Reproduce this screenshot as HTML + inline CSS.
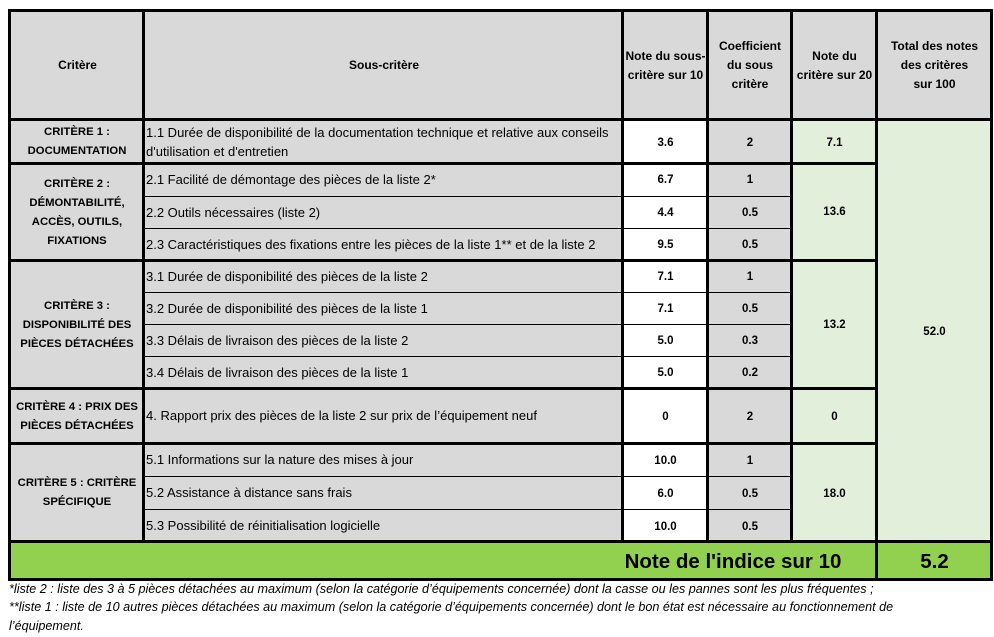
<!DOCTYPE html>
<html><head><meta charset="utf-8"><style>
body{margin:0;width:994px;height:637px;background:#fff;position:relative;overflow:hidden;font-family:"Liberation Sans",sans-serif;color:#000}
div{position:absolute;box-sizing:border-box}
.g{background:#d9d9d9}.w{background:#fff}.l{background:#e2efda}.G{background:#92d050}
.k{background:#000}
.c{display:flex;align-items:center;justify-content:center;text-align:center;font-weight:bold;font-size:12px;line-height:19px}
.cr{font-size:11.3px}
.t{display:flex;align-items:center;font-size:13px;line-height:19px;padding-left:3px;white-space:nowrap}
.n{font-size:11.5px}
.f{font-style:italic;font-size:12.6px;left:9px;white-space:nowrap}
</style></head><body>
<div class="g" style="left:9px;top:10px;width:982px;height:110px"></div>
<div class="g" style="left:9px;top:119px;width:614px;height:423px"></div>
<div class="w" style="left:622px;top:119px;width:86px;height:423px"></div>
<div class="g" style="left:707px;top:119px;width:85px;height:423px"></div>
<div class="l" style="left:791px;top:119px;width:200px;height:423px"></div>
<div class="G" style="left:9px;top:541px;width:982px;height:38px"></div>

<div class="c" style="left:12px;top:12px;width:131px;height:107px">Critère</div>
<div class="c" style="left:146px;top:12px;width:476px;height:107px">Sous-critère</div>
<div class="c" style="left:624px;top:12px;width:83px;height:107px">Note du sous-<br>critère sur 10</div>
<div class="c" style="left:709px;top:12px;width:82px;height:107px">Coefficient<br>du sous<br>critère</div>
<div class="c" style="left:793px;top:12px;width:83px;height:107px">Note du<br>critère sur 20</div>
<div class="c" style="left:878px;top:12px;width:113px;height:107px">Total des notes<br>des critères<br>sur 100</div>

<div class="c cr" style="left:11px;top:121px;width:132px;height:42px">CRITÈRE 1 :<br>DOCUMENTATION</div>
<div class="c cr" style="left:11px;top:165px;width:132px;height:95px">CRITÈRE 2 :<br>DÉMONTABILITÉ,<br>ACCÈS, OUTILS,<br>FIXATIONS</div>
<div class="c cr" style="left:11px;top:262px;width:132px;height:126px">CRITÈRE 3 :<br>DISPONIBILITÉ DES<br>PIÈCES DÉTACHÉES</div>
<div class="c cr" style="left:11px;top:390px;width:132px;height:53px">CRITÈRE 4 : PRIX DES<br>PIÈCES DÉTACHÉES</div>
<div class="c cr" style="left:11px;top:445px;width:132px;height:96px">CRITÈRE 5 : CRITÈRE<br>SPÉCIFIQUE</div>

<div class="t" style="left:143px;top:121px;width:479px;height:42px">1.1 Durée de disponibilité de la documentation technique et relative aux conseils<br>d'utilisation et d'entretien</div>
<div class="t" style="left:143px;top:163px;width:479px;height:33px">2.1 Facilité de démontage des pièces de la liste 2*</div>
<div class="t" style="left:143px;top:196px;width:479px;height:32px">2.2 Outils nécessaires (liste 2)</div>
<div class="t" style="left:143px;top:228px;width:479px;height:32px">2.3 Caractéristiques des fixations entre les pièces de la liste 1** et de la liste 2</div>
<div class="t" style="left:143px;top:260px;width:479px;height:32px">3.1 Durée de disponibilité des pièces de la liste 2</div>
<div class="t" style="left:143px;top:292px;width:479px;height:32px">3.2 Durée de disponibilité des pièces de la liste 1</div>
<div class="t" style="left:143px;top:324px;width:479px;height:32px">3.3 Délais de livraison des pièces de la liste 2</div>
<div class="t" style="left:143px;top:356px;width:479px;height:32px">3.4 Délais de livraison des pièces de la liste 1</div>
<div class="t" style="left:143px;top:388px;width:479px;height:55px">4. Rapport prix des pièces de la liste 2 sur prix de l’équipement neuf</div>
<div class="t" style="left:143px;top:443px;width:479px;height:33px">5.1 Informations sur la nature des mises à jour</div>
<div class="t" style="left:143px;top:476px;width:479px;height:33px">5.2 Assistance à distance sans frais</div>
<div class="t" style="left:143px;top:509px;width:479px;height:32px">5.3 Possibilité de réinitialisation logicielle</div>

<div class="c n" style="left:624px;top:122px;width:83px;height:42px">3.6</div><div class="c n" style="left:709px;top:122px;width:82px;height:42px">2</div>
<div class="c n" style="left:624px;top:164px;width:83px;height:33px">6.7</div><div class="c n" style="left:709px;top:164px;width:82px;height:33px">1</div>
<div class="c n" style="left:624px;top:197px;width:83px;height:32px">4.4</div><div class="c n" style="left:709px;top:197px;width:82px;height:32px">0.5</div>
<div class="c n" style="left:624px;top:229px;width:83px;height:32px">9.5</div><div class="c n" style="left:709px;top:229px;width:82px;height:32px">0.5</div>
<div class="c n" style="left:624px;top:261px;width:83px;height:32px">7.1</div><div class="c n" style="left:709px;top:261px;width:82px;height:32px">1</div>
<div class="c n" style="left:624px;top:293px;width:83px;height:32px">7.1</div><div class="c n" style="left:709px;top:293px;width:82px;height:32px">0.5</div>
<div class="c n" style="left:624px;top:325px;width:83px;height:32px">5.0</div><div class="c n" style="left:709px;top:325px;width:82px;height:32px">0.3</div>
<div class="c n" style="left:624px;top:357px;width:83px;height:32px">5.0</div><div class="c n" style="left:709px;top:357px;width:82px;height:32px">0.2</div>
<div class="c n" style="left:624px;top:390px;width:83px;height:55px">0</div><div class="c n" style="left:709px;top:390px;width:82px;height:55px">2</div>
<div class="c n" style="left:624px;top:445px;width:83px;height:33px">10.0</div><div class="c n" style="left:709px;top:445px;width:82px;height:33px">1</div>
<div class="c n" style="left:624px;top:478px;width:83px;height:33px">6.0</div><div class="c n" style="left:709px;top:478px;width:82px;height:33px">0.5</div>
<div class="c n" style="left:624px;top:511px;width:83px;height:32px">10.0</div><div class="c n" style="left:709px;top:511px;width:82px;height:32px">0.5</div>

<div class="c n" style="left:793px;top:122px;width:83px;height:42px">7.1</div>
<div class="c n" style="left:793px;top:164px;width:83px;height:97px">13.6</div>
<div class="c n" style="left:793px;top:261px;width:83px;height:128px">13.2</div>
<div class="c n" style="left:793px;top:390px;width:83px;height:55px">0</div>
<div class="c n" style="left:793px;top:445px;width:83px;height:98px">18.0</div>
<div class="c n" style="left:878px;top:122px;width:113px;height:420px">52.0</div>

<div class="c" style="left:590px;top:543px;width:286px;height:36px;font-size:20.5px">Note de l'indice sur 10</div>
<div class="c" style="left:878px;top:543px;width:113px;height:36px;font-size:20.5px">5.2</div>

<div class="k" style="left:8px;top:9px;width:985px;height:3px"></div>
<div class="k" style="left:8px;top:118px;width:985px;height:3px"></div>
<div class="k" style="left:8px;top:162px;width:870px;height:3px"></div>
<div class="k" style="left:8px;top:259px;width:870px;height:3px"></div>
<div class="k" style="left:8px;top:387px;width:870px;height:3px"></div>
<div class="k" style="left:8px;top:442px;width:870px;height:3px"></div>
<div class="k" style="left:8px;top:540px;width:985px;height:3px"></div>
<div class="k" style="left:8px;top:578px;width:985px;height:3px"></div>
<div class="k" style="left:143px;top:196px;width:649px;height:1px"></div>
<div class="k" style="left:143px;top:228px;width:649px;height:1px"></div>
<div class="k" style="left:143px;top:292px;width:649px;height:1px"></div>
<div class="k" style="left:143px;top:324px;width:649px;height:1px"></div>
<div class="k" style="left:143px;top:356px;width:649px;height:1px"></div>
<div class="k" style="left:143px;top:476px;width:649px;height:1px"></div>
<div class="k" style="left:143px;top:509px;width:649px;height:1px"></div>
<div class="k" style="left:8px;top:9px;width:3px;height:572px"></div>
<div class="k" style="left:142px;top:9px;width:3px;height:533px"></div>
<div class="k" style="left:621px;top:9px;width:3px;height:533px"></div>
<div class="k" style="left:706px;top:9px;width:3px;height:533px"></div>
<div class="k" style="left:790px;top:9px;width:3px;height:533px"></div>
<div class="k" style="left:875px;top:9px;width:3px;height:572px"></div>
<div class="k" style="left:990px;top:9px;width:3px;height:572px"></div>

<div class="f" style="top:582px">*liste 2 : liste des 3 à 5 pièces détachées au maximum (selon la catégorie d’équipements concernée) dont la casse ou les pannes sont les plus fréquentes ;</div>
<div class="f" style="top:600px">**liste 1 : liste de 10 autres pièces détachées au maximum (selon la catégorie d’équipements concernée) dont le bon état est nécessaire au fonctionnement de</div>
<div class="f" style="top:619px">l’équipement.</div>
</body></html>
